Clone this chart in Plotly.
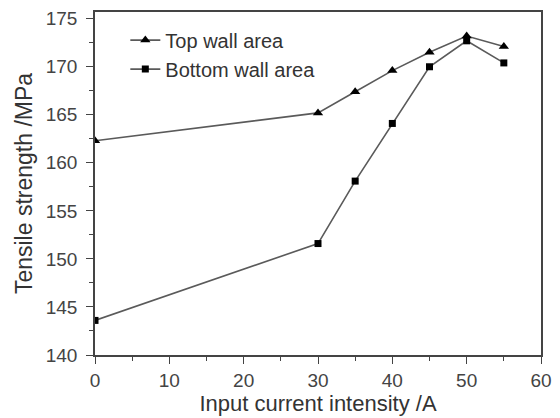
import plotly.graph_objects as go

current = [0, 30, 35, 40, 45, 50, 55]
top_wall = [162.3, 165.2, 167.4, 169.6, 171.5, 173.2, 172.1]
bottom_wall = [143.6, 151.6, 158.1, 164.1, 170.0, 172.7, 170.4]

x_ticks = [0, 10, 20, 30, 40, 50, 60]
y_ticks = [140, 145, 150, 155, 160, 165, 170, 175]
x_minor = [5, 15, 25, 35, 45, 55]
y_minor = [142.5, 147.5, 152.5, 157.5, 162.5, 167.5, 172.5]

FONT = "Liberation Sans, Arial, sans-serif"

fig = go.Figure()
fig.add_trace(go.Scatter(
    x=current, y=top_wall, name="Top wall area", mode="lines+markers",
    line=dict(color="#5a5a5a", width=1.6),
    marker=dict(symbol="triangle-up", size=9, color="black"),
))
fig.add_trace(go.Scatter(
    x=current, y=bottom_wall, name="Bottom wall area", mode="lines+markers",
    line=dict(color="#5a5a5a", width=1.6),
    marker=dict(symbol="square", size=7, color="black"),
))

axis_common = dict(
    showgrid=False, zeroline=False, showline=True, mirror=True,
    linecolor="#444444", linewidth=1.5, automargin=False,
    ticks="outside", ticklen=7, tickwidth=1.3, tickcolor="#444444",
    tickfont=dict(family=FONT, size=19, color="#444444"),
)

fig.update_layout(
    width=560, height=418,
    margin=dict(l=87, r=27, t=4, b=71),
    paper_bgcolor="white", plot_bgcolor="white",
    showlegend=True,
    legend=dict(x=0.068, y=0.975, xanchor="left", yanchor="top",
                bgcolor="rgba(0,0,0,0)",
                font=dict(family=FONT, size=20, color="#333333"),
                tracegroupgap=0, itemwidth=30),
    xaxis=dict(range=[0, 60], tickvals=x_ticks, **axis_common,
               minor=dict(tickvals=x_minor, ticks="outside", ticklen=4,
                          tickwidth=1, tickcolor="#444444"),
               title=dict(text="Input current intensity /A", standoff=5,
                          font=dict(family=FONT, size=22, color="#333333"))),
    yaxis=dict(range=[140, 175.7], tickvals=y_ticks, **axis_common,
               ticklabelstandoff=5,
               minor=dict(tickvals=y_minor, ticks="outside", ticklen=4,
                          tickwidth=1, tickcolor="#444444"),
               title=dict(text="Tensile strength /MPa", standoff=7,
                          font=dict(family=FONT, size=23, color="#333333"))),
)

fig.write_html("out.html")
